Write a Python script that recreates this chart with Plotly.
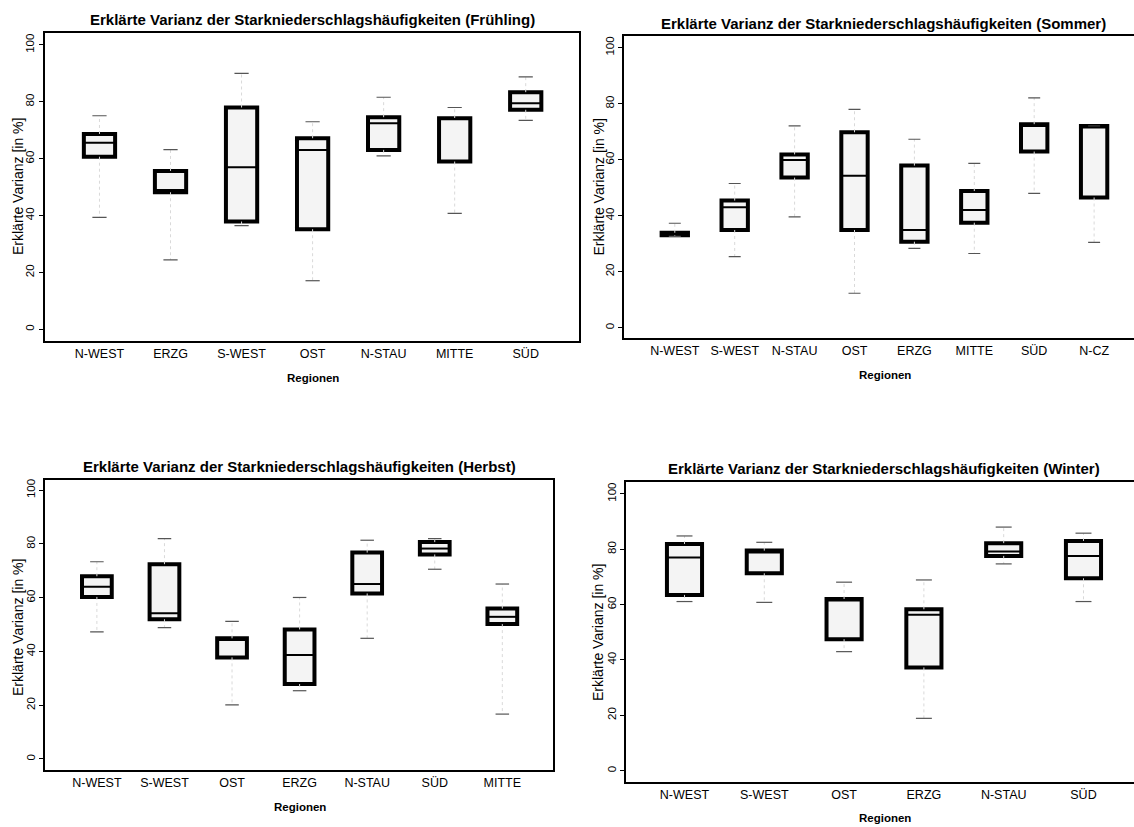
import plotly.graph_objects as go

# Erklärte Varianz (in %) je Region: unterer Whisker, Q1, Median, Q3, oberer Whisker
fr_regions = ["N-WEST", "ERZG", "S-WEST", "OST", "N-STAU", "MITTE", "SÜD"]
fr_low = [39.4, 24.4, 36.5, 17.1, 61.0, 40.8, 73.5]
fr_q1 = [60.7, 48.2, 37.9, 35.2, 63.1, 59.0, 77.2]
fr_med = [65.6, 49.0, 57.0, 63.1, 72.5, 74.0, 79.5]
fr_q3 = [68.7, 55.7, 78.0, 67.2, 74.6, 74.2, 83.4]
fr_high = [75.1, 63.2, 90.0, 73.0, 81.6, 78.0, 88.8]

so_regions = ["N-WEST", "S-WEST", "N-STAU", "OST", "ERZG", "MITTE", "SÜD", "N-CZ"]
so_low = [32.6, 25.4, 39.6, 12.3, 28.3, 26.5, 48.0, 30.5]
so_q1 = [33.0, 34.9, 53.6, 34.9, 30.7, 37.5, 62.9, 46.5]
so_med = [33.5, 43.0, 59.9, 54.3, 34.9, 42.0, 72.0, 71.5]
so_q3 = [33.9, 45.4, 61.9, 69.8, 57.9, 48.8, 72.7, 72.0]
so_high = [37.3, 51.5, 72.1, 78.0, 67.3, 58.7, 82.1, 72.0]

he_regions = ["N-WEST", "S-WEST", "OST", "ERZG", "N-STAU", "SÜD", "MITTE"]
he_low = [47.3, 48.9, 20.1, 25.4, 44.9, 70.6, 16.7]
he_q1 = [60.3, 52.0, 37.8, 27.9, 61.6, 76.1, 50.2]
he_med = [64.1, 54.2, 44.3, 38.7, 65.1, 78.3, 52.9]
he_q3 = [68.0, 72.5, 44.9, 48.2, 76.8, 80.7, 56.0]
he_high = [73.4, 82.0, 51.2, 60.1, 81.4, 82.0, 65.1]

wi_regions = ["N-WEST", "S-WEST", "OST", "ERZG", "N-STAU", "SÜD"]
wi_low = [61.1, 60.8, 43.0, 18.9, 74.7, 61.1]
wi_q1 = [63.5, 71.3, 47.5, 37.3, 77.6, 69.5]
wi_med = [77.0, 78.8, 61.5, 56.3, 79.2, 77.6]
wi_q3 = [81.9, 79.5, 62.0, 58.3, 82.2, 83.0]
wi_high = [84.8, 82.5, 68.1, 68.9, 88.0, 85.8]

y_ticks = [0, 20, 40, 60, 80, 100]

W, H = 1134, 827
FONT = "Liberation Sans, Arial, Helvetica, sans-serif"
BOX_W = 0.44
CAP_W = 0.10

panels = [
    dict(season="Frühling", regions=fr_regions, low=fr_low, q1=fr_q1, med=fr_med, q3=fr_q3, high=fr_high,
         px=(44.5, 579), py=(33, 341), xr=[0.226, 7.75], yr=[-4.1, 104.2], right_line=True,
         title_xy=(312, 20), xlab_xy=(313, 378), ylab_xy=(18, 187)),
    dict(season="Sommer", regions=so_regions, low=so_low, q1=so_q1, med=so_med, q3=so_q3, high=so_high,
         px=(624, 1134), py=(35.7, 338.3), xr=[0.152, 8.666], yr=[-3.8, 104.3], right_line=False,
         title_xy=(883.5, 23), xlab_xy=(885, 375), ylab_xy=(598, 187.5)),
    dict(season="Herbst", regions=he_regions, low=he_low, q1=he_q1, med=he_med, q3=he_q3, high=he_high,
         px=(45.2, 553), py=(480.3, 770), xr=[0.235, 7.75], yr=[-4.1, 103.7], right_line=True,
         title_xy=(299, 466.7), xlab_xy=(300, 806.7), ylab_xy=(18, 628)),
    dict(season="Winter", regions=wi_regions, low=wi_low, q1=wi_q1, med=wi_med, q3=wi_q3, high=wi_high,
         px=(626, 1134), py=(481.7, 782), xr=[0.267, 6.633], yr=[-4.1, 104.4], right_line=False,
         title_xy=(883.5, 468), xlab_xy=(885, 818), ylab_xy=(598, 633)),
]


def segments(pairs):
    xs, ys = [], []
    for (x0, y0), (x1, y1) in pairs:
        xs += [x0, x1, None]
        ys += [y0, y1, None]
    return xs, ys


fig = go.Figure()
layout = dict(
    width=W, height=H,
    margin=dict(l=0, r=0, t=0, b=0),
    paper_bgcolor="white", plot_bgcolor="white",
    showlegend=False,
    font=dict(family=FONT, color="black"),
    annotations=[],
)

for k, p in enumerate(panels):
    n = k + 1
    xa = "x" if n == 1 else f"x{n}"
    ya = "y" if n == 1 else f"y{n}"
    pos = list(range(1, len(p["regions"]) + 1))

    # whiskers (faint dotted) from box edges to the extremes
    wx, wy = segments([((x, q3), (x, hi)) for x, q3, hi in zip(pos, p["q3"], p["high"])] +
                      [((x, q1), (x, lo)) for x, q1, lo in zip(pos, p["q1"], p["low"])])
    fig.add_trace(go.Scatter(x=wx, y=wy, mode="lines", xaxis=xa, yaxis=ya, hoverinfo="skip",
                             line=dict(color="#d9d9d9", width=1, dash="dot")))

    # whisker end caps
    cx, cy = segments([((x - CAP_W, v), (x + CAP_W, v)) for x, v in zip(pos, p["high"])] +
                      [((x - CAP_W, v), (x + CAP_W, v)) for x, v in zip(pos, p["low"])])
    fig.add_trace(go.Scatter(x=cx, y=cy, mode="lines", xaxis=xa, yaxis=ya, hoverinfo="skip",
                             line=dict(color="#555555", width=1.2)))

    # interquartile boxes
    fig.add_trace(go.Bar(x=pos, y=[b - a for a, b in zip(p["q1"], p["q3"])], base=p["q1"],
                         width=BOX_W, xaxis=xa, yaxis=ya, hoverinfo="skip",
                         marker=dict(color="#f4f4f4", line=dict(color="black", width=4))))

    # medians
    mx, my = segments([((x - BOX_W / 2, v), (x + BOX_W / 2, v)) for x, v in zip(pos, p["med"])])
    fig.add_trace(go.Scatter(x=mx, y=my, mode="lines", xaxis=xa, yaxis=ya, hoverinfo="skip",
                             line=dict(color="black", width=2)))

    x0, x1 = p["px"]
    y0, y1 = p["py"]
    layout["xaxis" if n == 1 else f"xaxis{n}"] = dict(
        domain=[x0 / W, x1 / W], range=p["xr"], anchor=ya,
        tickmode="array", tickvals=pos, ticktext=p["regions"],
        ticks="", showgrid=False, zeroline=False,
        showline=True, linecolor="black", linewidth=1.8, mirror=True,
        tickfont=dict(size=12.5, family=FONT, color="black"),
    )
    layout["yaxis" if n == 1 else f"yaxis{n}"] = dict(
        domain=[1 - y1 / H, 1 - y0 / H], range=p["yr"], anchor=xa,
        tickmode="array", tickvals=y_ticks, ticktext=[str(t) for t in y_ticks],
        tickangle=-90, ticks="outside", ticklen=4, tickwidth=1, tickcolor="black",
        showgrid=False, zeroline=False,
        showline=True, linecolor="black", linewidth=1.8,
        mirror=True if p["right_line"] else False,
        tickfont=dict(size=11.5, family=FONT, color="black"),
    )

    tx, ty = p["title_xy"]
    layout["annotations"].append(dict(
        text=f"<b>Erklärte Varianz der Starkniederschlagshäufigkeiten ({p['season']})</b>",
        x=tx / W, y=1 - ty / H, xref="paper", yref="paper", xanchor="center", yanchor="middle",
        showarrow=False, font=dict(size=15, family=FONT, color="black")))
    lx, ly = p["xlab_xy"]
    layout["annotations"].append(dict(
        text="<b>Regionen</b>", x=lx / W, y=1 - ly / H, xref="paper", yref="paper",
        xanchor="center", yanchor="middle", showarrow=False,
        font=dict(size=11.5, family=FONT, color="black")))
    vx, vy = p["ylab_xy"]
    layout["annotations"].append(dict(
        text="Erklärte Varianz [in %]", x=vx / W, y=1 - vy / H, xref="paper", yref="paper",
        xanchor="center", yanchor="middle", textangle=-90, showarrow=False,
        font=dict(size=14, family=FONT, color="black")))

fig.update_layout(**layout)
fig.write_html("out.html")
